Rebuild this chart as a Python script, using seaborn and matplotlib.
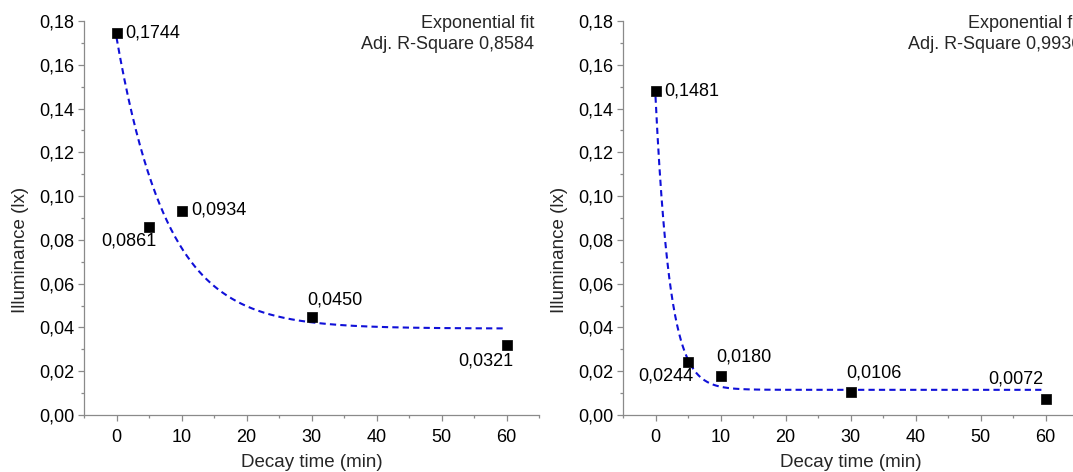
import numpy as np
import pandas as pd
import matplotlib
matplotlib.use("Agg")
import matplotlib.pyplot as plt
import seaborn as sns
from matplotlib.ticker import MultipleLocator, FuncFormatter

# datos medidos (tiempo de decaimiento en min, iluminancia en lx)
tiempo = [0, 5, 10, 30, 60]
ilum_izq = [0.1744, 0.0861, 0.0934, 0.0450, 0.0321]
ilum_der = [0.1481, 0.0244, 0.0180, 0.0106, 0.0072]

# parametros del ajuste exponencial y = y0 + A*exp(-x/t)
ajuste_izq = (0.0395, 0.133, 7.8)
ajuste_der = (0.0115, 0.134, 2.2)
r2_izq = "0,8584"
r2_der = "0,9936"

# posicion de cada etiqueta respecto al punto (ha, va, dx, dy en pixeles)
etq_izq = [("left", "center", 9, 0), ("right", "top", 8, -6), ("left", "center", 10, 1),
           ("left", "bottom", -4, 8), ("right", "top", 7, -8)]
etq_der = [("left", "center", 9, 0), ("right", "top", 5, -6), ("left", "bottom", -4, 10),
           ("left", "bottom", -4, 10), ("right", "bottom", -2, 12)]

sns.set_theme(style="ticks")
plt.rcParams['font.family'] = ['Liberation Sans', 'DejaVu Sans']
GRIS = '#8a8a8a'
FS = 13


def coma(v, nd):
    return f"{v:.{nd}f}".replace('.', ',')


def panel(ax, ilum, ajuste, r2, etiquetas, dx_txt, x_ylab):
    y0, A, t = ajuste
    xs = np.linspace(0, 60, 400)
    df_fit = pd.DataFrame({'x': xs, 'y': y0 + A * np.exp(-xs / t)})
    df = pd.DataFrame({'x': tiempo, 'y': ilum})

    sns.lineplot(data=df_fit, x='x', y='y', ax=ax, color='#1010d8', lw=1.5,
                 dashes=False, zorder=2)
    ax.lines[-1].set_dashes((3, 2))
    sns.scatterplot(data=df, x='x', y='y', ax=ax, marker='s', s=52, color='black',
                    edgecolor='black', linewidth=0.5, zorder=3)

    for (x, y), (ha, va, dx, dy) in zip(zip(tiempo, ilum), etiquetas):
        ax.annotate(coma(y, 4), (x, y), xytext=(dx, dy), textcoords='offset pixels',
                    ha=ha, va=va, fontsize=FS, color='black')

    ax.annotate(f"Exponential fit\nAdj. R-Square {r2}", (1, 1), xycoords='axes fraction',
                xytext=(dx_txt, 6), textcoords='offset pixels', ha='right', va='top',
                fontsize=FS, linespacing=1.3, annotation_clip=False)

    ax.set_xlim(-5, 65)
    ax.set_ylim(0, 0.18)
    ax.xaxis.set_major_locator(MultipleLocator(10))
    ax.xaxis.set_minor_locator(MultipleLocator(5))
    ax.yaxis.set_major_locator(MultipleLocator(0.02))
    ax.yaxis.set_minor_locator(MultipleLocator(0.01))
    ax.yaxis.set_major_formatter(FuncFormatter(lambda v, p: coma(v, 2)))
    ax.xaxis.set_major_formatter(FuncFormatter(lambda v, p: f"{v:.0f}"))

    for s in ['top', 'right']:
        ax.spines[s].set_visible(False)
    for s in ['left', 'bottom']:
        ax.spines[s].set_color(GRIS)
        ax.spines[s].set_linewidth(0.9)
    ax.tick_params(which='major', direction='out', length=4, width=0.9, color=GRIS,
                   labelsize=FS, labelcolor='black', pad=3)
    ax.tick_params(axis='x', which='major', pad=6)
    ax.tick_params(which='minor', direction='out', length=2.5, width=0.9, color=GRIS)

    ax.set_xlabel("Decay time (min)", fontsize=FS + 0.5)
    ax.set_ylabel("Illuminance (lx)", fontsize=FS + 0.5)
    ax.xaxis.set_label_coords(0.5, -0.10)
    ax.yaxis.set_label_coords(x_ylab, 0.42)


fig = plt.figure(figsize=(10.73, 4.72), dpi=100)
ax1 = fig.add_axes([84 / 1073, 57 / 472, 455 / 1073, 394 / 472])
ax2 = fig.add_axes([623 / 1073, 57 / 472, 455 / 1073, 394 / 472])

panel(ax1, ilum_izq, ajuste_izq, r2_izq, etq_izq, -5, -0.12)
panel(ax2, ilum_der, ajuste_der, r2_der, etq_der, 3, -0.12)

fig.savefig("out.png", dpi=100)
